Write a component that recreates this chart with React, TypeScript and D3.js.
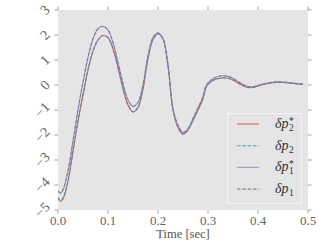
import React, { useEffect, useRef } from 'react';
import * as d3 from 'd3';

// time samples [sec]
const time = [
  0, 0.005, 0.01, 0.02, 0.03, 0.04, 0.05, 0.06, 0.07, 0.08, 0.09, 0.1,
  0.11, 0.12, 0.13, 0.14, 0.15, 0.16, 0.17, 0.18, 0.19, 0.2, 0.21, 0.22,
  0.23, 0.24, 0.25, 0.26, 0.27, 0.28, 0.29, 0.295, 0.3, 0.31, 0.32, 0.33,
  0.34, 0.35, 0.36, 0.37, 0.38, 0.39, 0.4, 0.41, 0.42, 0.43, 0.44, 0.45,
  0.46, 0.47, 0.48, 0.49,
];

const dp2Star = [
  -4.52, -4.65, -4.55, -3.85, -2.65, -1.45, -0.4, 0.6, 1.35, 1.8, 1.98, 1.9,
  1.45, 0.7, -0.15, -0.8, -1.08, -0.9, -0.15, 1.05, 1.82, 2.05, 1.85, 0.75,
  -1.0, -1.7, -1.97, -1.8, -1.42, -1.0, -0.55, -0.15, 0.02, 0.18, 0.25, 0.28,
  0.27, 0.2, 0.08, -0.03, -0.1, -0.1, -0.04, 0.02, 0.06, 0.09, 0.11, 0.1,
  0.08, 0.06, 0.04, 0.02,
];

const dp2 = [
  -4.5, -4.63, -4.53, -3.83, -2.63, -1.43, -0.38, 0.62, 1.36, 1.8, 1.98, 1.9,
  1.45, 0.7, -0.14, -0.79, -1.07, -0.89, -0.14, 1.06, 1.82, 2.05, 1.85, 0.76,
  -0.99, -1.69, -1.96, -1.79, -1.41, -0.99, -0.54, -0.14, 0.03, 0.19, 0.26, 0.29,
  0.28, 0.21, 0.09, -0.02, -0.09, -0.09, -0.03, 0.03, 0.07, 0.1, 0.11, 0.1,
  0.08, 0.06, 0.04, 0.02,
];

const dp1Star = [
  -4.25, -4.33, -4.2, -3.45, -2.25, -1.0, 0.1, 1.1, 1.85, 2.25, 2.35, 2.2,
  1.7, 0.9, 0.05, -0.6, -0.86, -0.7, 0.0, 1.15, 1.9, 2.08, 1.85, 0.8,
  -0.95, -1.62, -1.9, -1.75, -1.35, -0.92, -0.47, -0.08, 0.08, 0.25, 0.33, 0.37,
  0.35, 0.27, 0.14, 0.02, -0.06, -0.07, -0.02, 0.04, 0.08, 0.11, 0.13, 0.12,
  0.1, 0.08, 0.06, 0.04,
];

const dp1 = [
  -4.23, -4.31, -4.18, -3.43, -2.23, -0.98, 0.12, 1.11, 1.85, 2.25, 2.35, 2.2,
  1.7, 0.9, 0.06, -0.59, -0.85, -0.69, 0.01, 1.16, 1.9, 2.08, 1.85, 0.81,
  -0.94, -1.61, -1.89, -1.74, -1.34, -0.91, -0.46, -0.07, 0.09, 0.26, 0.34, 0.37,
  0.35, 0.27, 0.14, 0.02, -0.06, -0.07, -0.02, 0.04, 0.08, 0.11, 0.13, 0.12,
  0.1, 0.08, 0.06, 0.04,
];

const xTicks = [0, 0.1, 0.2, 0.3, 0.4, 0.5];
const yTicks = [-5, -4, -3, -2, -1, 0, 1, 2, 3];

const seriesList = [
  { name: 'dp2Star', values: dp2Star, color: '#E24A33', dash: null, sub: '2', star: true },
  { name: 'dp2', values: dp2, color: '#348ABD', dash: '3.7,1.6', sub: '2', star: false },
  { name: 'dp1Star', values: dp1Star, color: '#988ED5', dash: null, sub: '1', star: true },
  { name: 'dp1', values: dp1, color: '#777777', dash: '3.7,1.6', sub: '1', star: false },
];

const App = () => {
  const chartRef = useRef<SVGSVGElement | null>(null);

  useEffect(() => {
    const width = 327;
    const height = 245;
    const marginLeft = 58;
    const marginRight = 19;
    const marginTop = 10;
    const marginBottom = 35;
    const serif = '"Liberation Serif", "DejaVu Serif", serif';

    const svg = d3.select(chartRef.current);
    svg.selectAll('*').remove();
    svg.attr('width', width).attr('height', height).attr('viewBox', [0, 0, width, height]);

    const x = d3.scaleLinear().domain([0, 0.5]).range([marginLeft, width - marginRight]);
    const y = d3.scaleLinear().domain([-5, 3]).range([height - marginBottom, marginTop]);

    svg.append('rect')
      .attr('x', x(0)).attr('y', y(3))
      .attr('width', x(0.5) - x(0)).attr('height', y(-5) - y(3))
      .attr('fill', '#E5E5E5');

    const tickColor = '#888';
    const tl = 3.5;

    // ticks on all four sides, outward
    const tg = svg.append('g').attr('stroke', tickColor).attr('stroke-width', 0.8);
    xTicks.forEach(t => {
      tg.append('line').attr('x1', x(t)).attr('x2', x(t)).attr('y1', y(-5)).attr('y2', y(-5) + tl);
      tg.append('line').attr('x1', x(t)).attr('x2', x(t)).attr('y1', y(3)).attr('y2', y(3) - tl);
    });
    yTicks.forEach(t => {
      tg.append('line').attr('x1', x(0)).attr('x2', x(0) - tl).attr('y1', y(t)).attr('y2', y(t));
      tg.append('line').attr('x1', x(0.5)).attr('x2', x(0.5) + tl).attr('y1', y(t)).attr('y2', y(t));
    });

    // x tick labels
    svg.append('g')
      .selectAll('text')
      .data(xTicks)
      .join('text')
        .attr('x', d => x(d))
        .attr('y', y(-5) + 15)
        .attr('text-anchor', 'middle')
        .attr('font-family', serif)
        .attr('font-size', 13)
        .attr('fill', '#666')
        .text(d => d3.format('.1f')(d));

    // y tick labels, rotated
    const fmtY = (d: number) => (d < 0 ? '\u2212' + Math.abs(d) : String(d));
    const yl = svg.append('g');
    yTicks.forEach(t => {
      const txt = yl.append('text')
        .attr('text-anchor', 'middle')
        .attr('dominant-baseline', 'central')
        .attr('font-family', serif)
        .attr('font-size', 14)
        .attr('fill', '#666')
        .text(fmtY(t));
      const w = (txt.node() as SVGTextElement).getComputedTextLength();
      const h = 9.5;
      const half = (w + h) * Math.SQRT1_2 / 2;
      const cx = x(0) - tl - 3.5 - half;
      txt.attr('transform', `translate(${cx},${y(t)}) rotate(-45)`);
    });

    svg.append('text')
      .attr('x', (x(0) + x(0.5)) / 2)
      .attr('y', height - 7)
      .attr('text-anchor', 'middle')
      .attr('font-family', serif)
      .attr('font-size', 12.5)
      .attr('fill', '#555')
      .text('Time [sec]');

    const line = d3.line<number>()
      .x((_, i) => x(time[i]))
      .y(d => y(d))
      .curve(d3.curveCatmullRom);

    svg.append('g')
      .selectAll('path')
      .data(seriesList)
      .join('path')
        .attr('d', d => line(d.values))
        .attr('fill', 'none')
        .attr('stroke', d => d.color)
        .attr('stroke-width', 1.1)
        .attr('stroke-opacity', 0.85)
        .attr('stroke-dasharray', d => d.dash);

    // legend
    const lg = svg.append('g');
    lg.append('rect')
      .attr('x', 227.5).attr('y', 113.5)
      .attr('width', 74).attr('height', 90)
      .attr('fill', '#E5E5E5')
      .attr('stroke', '#f8f8f8')
      .attr('stroke-width', 0.8);

    seriesList.forEach((s, i) => {
      const ry = 124 + i * 21.7;
      lg.append('line')
        .attr('x1', 237).attr('x2', 259)
        .attr('y1', ry).attr('y2', ry)
        .attr('stroke', s.color)
        .attr('stroke-width', 1.1)
        .attr('stroke-opacity', 0.85)
        .attr('stroke-dasharray', s.dash);
      const label = lg.append('text')
        .attr('x', 275).attr('y', ry + 4)
        .attr('font-family', serif)
        .attr('fill', '#333');
      const main = label.append('tspan')
        .attr('font-style', 'italic')
        .attr('font-size', 14)
        .text('\u03b4p');
      const mw = (main.node() as SVGTSpanElement).getComputedTextLength();
      label.append('tspan')
        .attr('x', 275 + mw + 0.5)
        .attr('dy', 3)
        .attr('font-size', 9.5)
        .text(s.sub);
      if (s.star) {
        label.append('tspan')
          .attr('x', 275 + mw + 0.5)
          .attr('dy', -7.5)
          .attr('font-size', 9.5)
          .text('*');
      }
    });
  }, []);

  return (
    <div style={{ width: 327, height: 245 }}>
      <svg ref={chartRef} style={{ position: 'absolute', left: 0, top: 0 }}></svg>
    </div>
  );
};

export default App;
